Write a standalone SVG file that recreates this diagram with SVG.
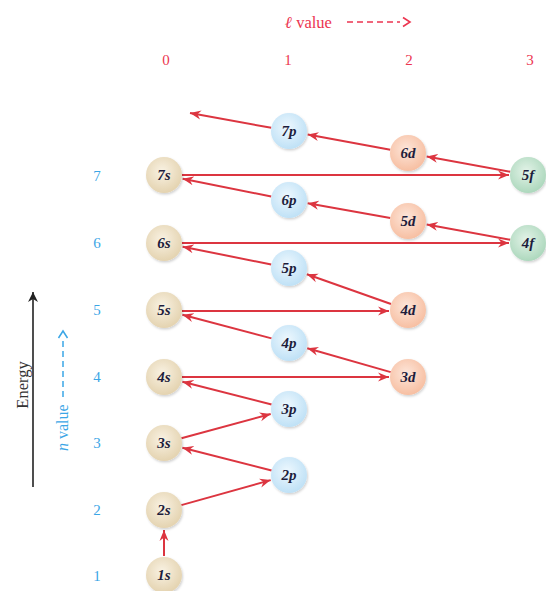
<svg xmlns="http://www.w3.org/2000/svg" width="546" height="591" viewBox="0 0 546 591">
<style>
.lbl{font-family:"Liberation Serif","DejaVu Serif",serif;font-size:15px;font-weight:bold;font-style:italic;fill:#1d1d3c;text-anchor:middle;dominant-baseline:central}
.lv{font-family:"Liberation Serif","DejaVu Serif",serif;font-size:15px;fill:#ec3550;text-anchor:middle;dominant-baseline:central}
.nv{font-family:"Liberation Serif","DejaVu Serif",serif;font-size:15px;fill:#3ba6e6;text-anchor:middle;dominant-baseline:central}
.con line{stroke:#dc3540;stroke-width:2;fill:none;marker-end:url(#ah)}
.node circle{stroke:none;filter:url(#sh)}
</style>
<defs>
<marker id="ah" markerUnits="userSpaceOnUse" markerWidth="12" markerHeight="10" refX="11" refY="5" orient="auto">
<path d="M0,0.5 L11,5 L0,9.5 L3.5,5 z" fill="#dc3540"/>
</marker>
<marker id="bh" markerUnits="userSpaceOnUse" markerWidth="12" markerHeight="12" refX="10" refY="6" orient="auto">
<path d="M0,1 L10,6 L0,11 L3,6 z" fill="#222"/>
</marker>
<radialGradient id="gs" cx="45%" cy="40%" r="60%"><stop offset="0" stop-color="#f9f2e3"/><stop offset="1" stop-color="#e4d3b0"/></radialGradient>
<radialGradient id="gp" cx="45%" cy="40%" r="60%"><stop offset="0" stop-color="#eef8fe"/><stop offset="1" stop-color="#bfe1f6"/></radialGradient>
<radialGradient id="gd" cx="45%" cy="40%" r="60%"><stop offset="0" stop-color="#fde6da"/><stop offset="1" stop-color="#f7bfa2"/></radialGradient>
<radialGradient id="gf" cx="45%" cy="40%" r="60%"><stop offset="0" stop-color="#e3f3e8"/><stop offset="1" stop-color="#add8bd"/></radialGradient>
<filter id="sh" x="-30%" y="-30%" width="160%" height="160%"><feDropShadow dx="1" dy="1.5" stdDeviation="1.2" flood-color="#000" flood-opacity="0.18"/></filter>
</defs>
<rect width="546" height="591" fill="#fff"/>

<g id="axes">
<text x="285" y="22" font-family="Liberation Serif, serif" font-size="16.5" fill="#ec3550" dominant-baseline="central"><tspan font-style="italic" font-weight="bold">ℓ</tspan> value</text>
<line x1="347" y1="22" x2="400" y2="22" stroke="#ec3550" stroke-width="1.6" stroke-dasharray="6,4"/>
<path d="M403,17.5 L410,22 L403,26.5" fill="none" stroke="#ec3550" stroke-width="1.6"/>
<text class="lv" x="166" y="60">0</text>
<text class="lv" x="288" y="60">1</text>
<text class="lv" x="409" y="60">2</text>
<text class="lv" x="530" y="60">3</text>
<text class="nv" x="97" y="176">7</text>
<text class="nv" x="97" y="243">6</text>
<text class="nv" x="97" y="310">5</text>
<text class="nv" x="97" y="377">4</text>
<text class="nv" x="97" y="443">3</text>
<text class="nv" x="97" y="510">2</text>
<text class="nv" x="97" y="576">1</text>
<line x1="33" y1="487" x2="33" y2="292" stroke="#222" stroke-width="1.6" marker-end="url(#bh)"/>
<text transform="translate(28,385) rotate(-90)" font-family="Liberation Serif, serif" font-size="16.5" fill="#333" text-anchor="middle">Energy</text>
<g transform="translate(68,451) rotate(-90)">
<text x="0" y="0" font-family="Liberation Serif, serif" font-size="16" fill="#3ba6e6"><tspan font-style="italic">n</tspan> value</text>
<line x1="54" y1="-5" x2="113" y2="-5" stroke="#3ba6e6" stroke-width="1.5" stroke-dasharray="6,4"/>
<path d="M113,-9.5 L120,-5 L113,-0.5" fill="none" stroke="#3ba6e6" stroke-width="1.5"/>
</g>
</g>

<g id="connectors" class="con">
<line x1="164" y1="556" x2="164" y2="530"/>
<line x1="181.3" y1="505.1" x2="270.7" y2="480.1"/>
<line x1="271.6" y1="470.5" x2="182.4" y2="447.7"/>
<line x1="181.4" y1="438.3" x2="270.7" y2="414"/>
<line x1="271.6" y1="404.5" x2="182.4" y2="381.7"/>
<line x1="182" y1="377" x2="389" y2="377"/>
<line x1="390.7" y1="372.1" x2="307.3" y2="348.2"/>
<line x1="271.6" y1="338.4" x2="182.4" y2="314.8"/>
<line x1="182" y1="311" x2="389" y2="311"/>
<line x1="391" y1="304" x2="306.9" y2="274.3"/>
<line x1="271.3" y1="264.5" x2="182.6" y2="246.7"/>
<line x1="182" y1="243" x2="509" y2="243"/>
<line x1="510.3" y1="239.8" x2="426.7" y2="224.4"/>
<line x1="390.3" y1="217.9" x2="307.7" y2="203.3"/>
<line x1="271.3" y1="196.5" x2="182.6" y2="178.7"/>
<line x1="182" y1="175" x2="509" y2="175"/>
<line x1="510.3" y1="171.8" x2="426.7" y2="156.4"/>
<line x1="390.3" y1="149.7" x2="307.7" y2="134.5"/>
<line x1="271.3" y1="127.8" x2="190" y2="113"/>
</g>

<g id="n1s" class="node"><circle cx="164" cy="575" r="18" fill="url(#gs)"/><text class="lbl" x="164" y="575">1s</text></g>
<g id="n2s" class="node"><circle cx="164" cy="510" r="18" fill="url(#gs)"/><text class="lbl" x="164" y="510">2s</text></g>
<g id="n3s" class="node"><circle cx="164" cy="443" r="18" fill="url(#gs)"/><text class="lbl" x="164" y="443">3s</text></g>
<g id="n4s" class="node"><circle cx="164" cy="377" r="18" fill="url(#gs)"/><text class="lbl" x="164" y="377">4s</text></g>
<g id="n5s" class="node"><circle cx="164" cy="310" r="18" fill="url(#gs)"/><text class="lbl" x="164" y="310">5s</text></g>
<g id="n6s" class="node"><circle cx="164" cy="243" r="18" fill="url(#gs)"/><text class="lbl" x="164" y="243">6s</text></g>
<g id="n7s" class="node"><circle cx="164" cy="175" r="18" fill="url(#gs)"/><text class="lbl" x="164" y="175">7s</text></g>

<g id="n2p" class="node"><circle cx="289" cy="475" r="18" fill="url(#gp)"/><text class="lbl" x="289" y="475">2p</text></g>
<g id="n3p" class="node"><circle cx="289" cy="409" r="18" fill="url(#gp)"/><text class="lbl" x="289" y="409">3p</text></g>
<g id="n4p" class="node"><circle cx="289" cy="343" r="18" fill="url(#gp)"/><text class="lbl" x="289" y="343">4p</text></g>
<g id="n5p" class="node"><circle cx="289" cy="268" r="18" fill="url(#gp)"/><text class="lbl" x="289" y="268">5p</text></g>
<g id="n6p" class="node"><circle cx="289" cy="200" r="18" fill="url(#gp)"/><text class="lbl" x="289" y="200">6p</text></g>
<g id="n7p" class="node"><circle cx="289" cy="131" r="18" fill="url(#gp)"/><text class="lbl" x="289" y="131">7p</text></g>

<g id="n3d" class="node"><circle cx="408" cy="377" r="18" fill="url(#gd)"/><text class="lbl" x="408" y="377">3d</text></g>
<g id="n4d" class="node"><circle cx="408" cy="310" r="18" fill="url(#gd)"/><text class="lbl" x="408" y="310">4d</text></g>
<g id="n5d" class="node"><circle cx="408" cy="221" r="18" fill="url(#gd)"/><text class="lbl" x="408" y="221">5d</text></g>
<g id="n6d" class="node"><circle cx="408" cy="153" r="18" fill="url(#gd)"/><text class="lbl" x="408" y="153">6d</text></g>

<g id="n4f" class="node"><circle cx="528" cy="243" r="18" fill="url(#gf)"/><text class="lbl" x="528" y="243">4f</text></g>
<g id="n5f" class="node"><circle cx="528" cy="175" r="18" fill="url(#gf)"/><text class="lbl" x="528" y="175">5f</text></g>
</svg>
